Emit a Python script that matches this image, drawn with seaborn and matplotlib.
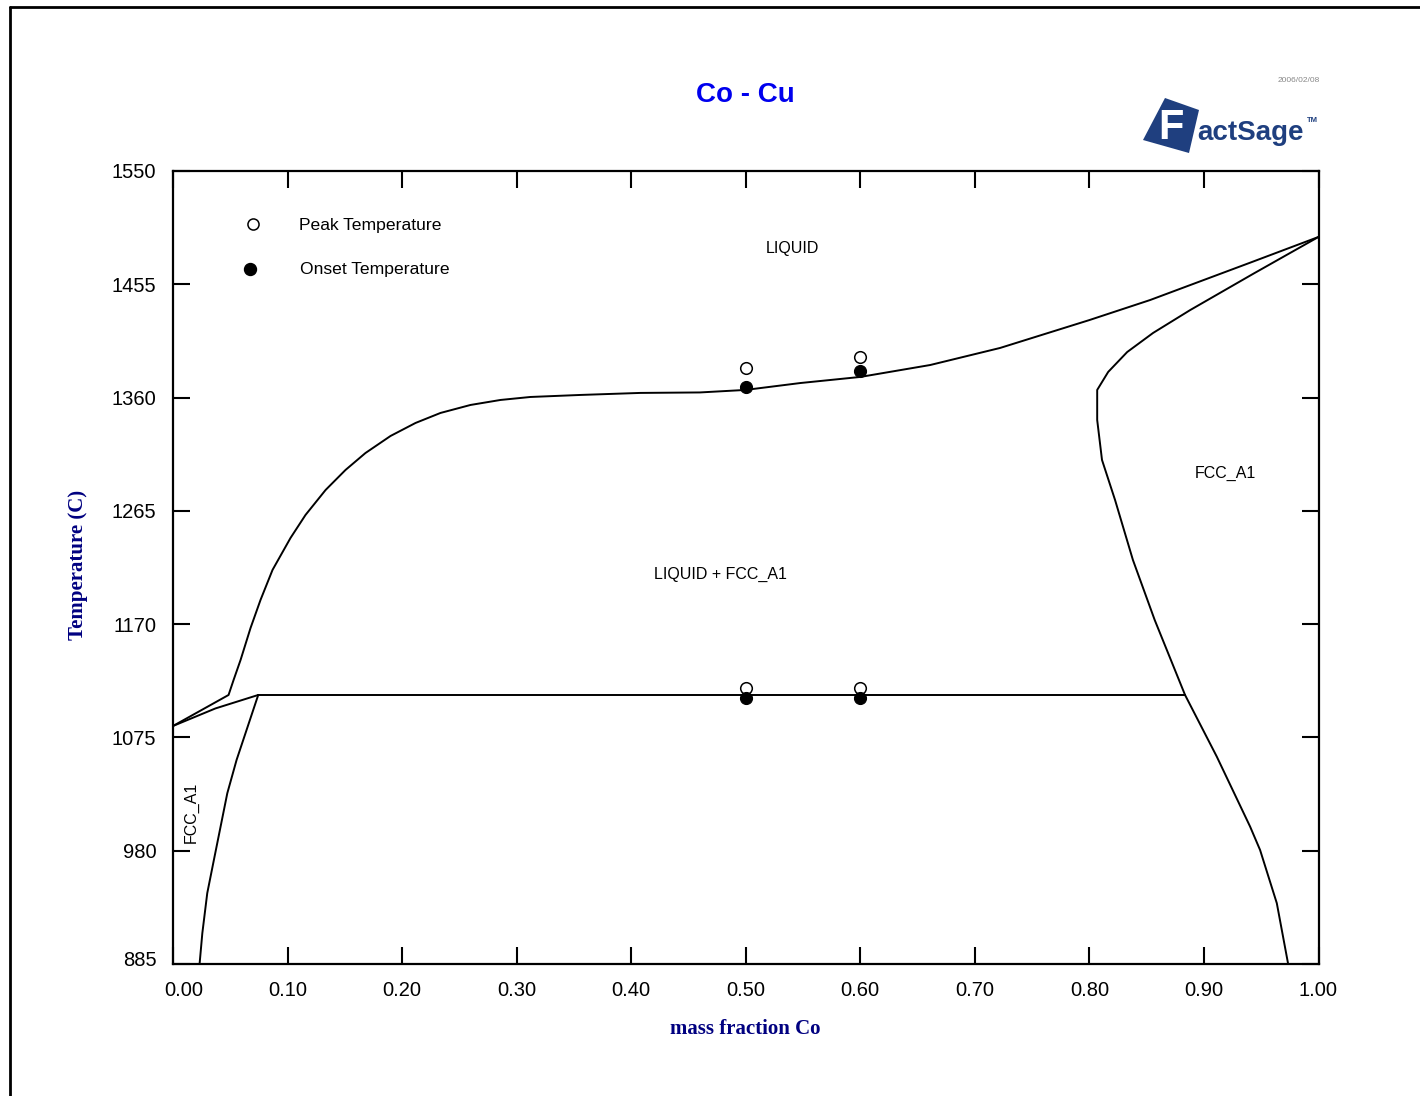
import numpy as np
import pandas as pd
import matplotlib
matplotlib.use("Agg")
import matplotlib.pyplot as plt
import matplotlib.transforms as mtrans
import seaborn as sns
from matplotlib.lines import Line2D
from matplotlib.patches import Polygon

# ---------------- data ----------------
liq_x = [0.0, 0.0485, 0.0529, 0.059, 0.0677, 0.0764, 0.0869, 0.1026, 0.1157, 0.1332,
         0.1506, 0.168, 0.1899, 0.2117, 0.2335, 0.2597, 0.2859, 0.312, 0.3557, 0.408,
         0.46, 0.4997, 0.5477, 0.60, 0.661, 0.722, 0.80, 0.853, 0.94, 1.0]
liq_T = [1084.6, 1110.6, 1123.2, 1140.0, 1166.8, 1190.3, 1215.5, 1242.3, 1261.6, 1282.5,
         1299.3, 1313.5, 1327.8, 1338.7, 1347.1, 1353.8, 1358.0, 1360.5, 1362.2, 1363.9,
         1364.3, 1366.4, 1372.2, 1377.3, 1387.3, 1401.6, 1425.0, 1441.8, 1473.0, 1494.7]

sol_co_x = [1.0, 0.9432, 0.888, 0.8556, 0.833, 0.8164, 0.8068, 0.8068, 0.811, 0.8224,
            0.838, 0.857, 0.8835]
sol_co_T = [1494.7, 1463.9, 1433.4, 1414.2, 1398.2, 1381.5, 1366.4, 1341.2, 1307.7, 1274.1,
            1223.8, 1173.5, 1110.6]

solv_co_x = [0.8835, 0.9112, 0.9403, 0.949, 0.9636, 0.9735]
solv_co_T = [1110.6, 1058.9, 1000.2, 980.6, 936.0, 885.0]

perit_x = [0.0744, 0.8835]
perit_T = [1110.6, 1110.6]

sol_cu_x = [0.0, 0.037, 0.0744]
sol_cu_T = [1084.6, 1099.3, 1110.6]

solv_cu_x = [0.0744, 0.0555, 0.0474, 0.0357, 0.0299, 0.0256, 0.0232]
solv_cu_T = [1110.6, 1056.1, 1028.2, 972.3, 944.4, 910.8, 885.0]

exp_x = [0.5, 0.6, 0.5, 0.6]
peak_T = [1384.8, 1394.0, 1116.5, 1116.5]
onset_T = [1368.9, 1382.3, 1108.1, 1108.1]

xticks = [0.0, 0.1, 0.2, 0.3, 0.4, 0.5, 0.6, 0.7, 0.8, 0.9, 1.0]
yticks = [885, 980, 1075, 1170, 1265, 1360, 1455, 1550]

# ---------------- style ----------------
sns.set_theme(style="white")
plt.rcParams['font.family'] = ['Liberation Sans', 'DejaVu Sans']
plt.rcParams['text.color'] = 'black'
plt.rcParams['xtick.color'] = 'black'
plt.rcParams['ytick.color'] = 'black'

W, H = 1420, 1096
fig = plt.figure(figsize=(W / 100, H / 100), dpi=100)
ax = fig.add_axes([173 / W, 1 - 964 / H, (1318.5 - 173) / W, (964 - 171) / H])

curves = [(liq_x, liq_T), (sol_co_x, sol_co_T), (solv_co_x, solv_co_T),
          (perit_x, perit_T), (sol_cu_x, sol_cu_T), (solv_cu_x, solv_cu_T)]
for cx, cT in curves:
    df = pd.DataFrame({"x": cx, "T": cT})
    sns.lineplot(data=df, x="x", y="T", sort=False, estimator=None, color="black",
                 lw=1.4, ax=ax)

pk = pd.DataFrame({"x": exp_x, "T": peak_T})
on = pd.DataFrame({"x": exp_x, "T": onset_T})
sns.scatterplot(data=pk, x="x", y="T", ax=ax, marker="o", s=70, facecolor="white",
                edgecolor="black", linewidth=1.1, zorder=5)
sns.scatterplot(data=on, x="x", y="T", ax=ax, marker="o", s=75, color="black",
                edgecolor="black", linewidth=0.8, zorder=5)

# legend drawn as in the original
ax.plot([0.0695], [1505.6], marker="o", ms=8, mfc="white", mec="black", mew=1.1,
        ls="none")
ax.plot([0.067], [1467.8], marker="o", ms=8.6, mfc="black", mec="black", ls="none")
ax.text(0.110, 1504.5, "Peak Temperature", fontsize=12.6, va="center", ha="left")
ax.text(0.111, 1467.0, "Onset Temperature", fontsize=12.6, va="center", ha="left")

# region labels
ax.text(0.5407, 1485.4, "LIQUID", fontsize=11.5, ha="center", va="center")
ax.text(0.478, 1212, "LIQUID + FCC_A1", fontsize=11.5, ha="center", va="center")
ax.text(0.9185, 1296, "FCC_A1", fontsize=11.5, ha="center", va="center")
ax.text(0.016, 1012, "FCC_A1", fontsize=11.5, ha="center", va="center", rotation=90)

ax.set_xlim(0, 1)
ax.set_ylim(885, 1550)
ax.set_xticks(xticks)
ax.set_yticks(yticks)
ax.set_xticklabels([f"{v:.2f}" for v in xticks])
ax.set_yticklabels([str(v) for v in yticks])
ax.set_xlabel("")
ax.set_ylabel("")
ax.tick_params(axis="both", direction="in", length=12, width=1.5, colors="black",
               labelsize=14.5, top=True, right=True, bottom=True, left=True)
ax.tick_params(axis="x", pad=12)
ax.tick_params(axis="y", pad=12)
for s in ax.spines.values():
    s.set_visible(True)
    s.set_color("black")
    s.set_linewidth(1.6)

# shift first x label slightly right and lowest y label slightly up, as in the original
lbl0 = ax.get_xticklabels()[0]
lbl0.set_transform(lbl0.get_transform() + mtrans.ScaledTranslation(11 / 100, 0, fig.dpi_scale_trans))
lbly = ax.get_yticklabels()[0]
lbly.set_transform(lbly.get_transform() + mtrans.ScaledTranslation(0, 5 / 100, fig.dpi_scale_trans))

# titles / axis labels
fig.text(745 / W, 1 - 95 / H, "Co - Cu", fontsize=20, fontweight="bold", color="#0000ee",
         ha="center", va="center")
fig.text(78 / W, 1 - 565 / H, "Temperature (C)", fontsize=15, fontweight="bold",
         color="#000080", family=["Liberation Serif", "DejaVu Serif"], rotation=90,
         ha="center", va="center")
fig.text(745 / W, 1 - 1029 / H, "mass fraction Co", fontsize=15, fontweight="bold",
         color="#000080", family=["Liberation Serif", "DejaVu Serif"],
         ha="center", va="center")

# date and logo
fig.text(1299 / W, 1 - 81 / H, "2006/02/08", fontsize=6, color="#888888",
         ha="center", va="center")
navy = "#1f3f7f"
diamond = [(1165, 98), (1199, 110), (1189, 153), (1143, 140)]
fig.add_artist(Polygon([(x / W, 1 - y / H) for x, y in diamond], closed=True,
                       transform=fig.transFigure, facecolor=navy, edgecolor="none",
                       zorder=1))
fig.text(1158 / W, 1 - 128 / H, "F", fontsize=30, fontweight="bold", color="white",
         ha="left", va="center", zorder=3)
fig.text(1197 / W, 1 - 133 / H, "actSage", fontsize=20, fontweight="bold", color=navy,
         ha="left", va="center", zorder=3)
fig.text(1312 / W, 1 - 120 / H, "TM", fontsize=5.5, fontweight="bold", color=navy,
         ha="center", va="center")

# page border
fig.add_artist(Line2D([10 / W, 1.0], [1 - 7 / H, 1 - 7 / H], transform=fig.transFigure,
                      color="black", lw=2))
fig.add_artist(Line2D([10 / W, 10 / W], [0.0, 1 - 7 / H], transform=fig.transFigure,
                      color="black", lw=2))

fig.savefig("out.png", dpi=100)
